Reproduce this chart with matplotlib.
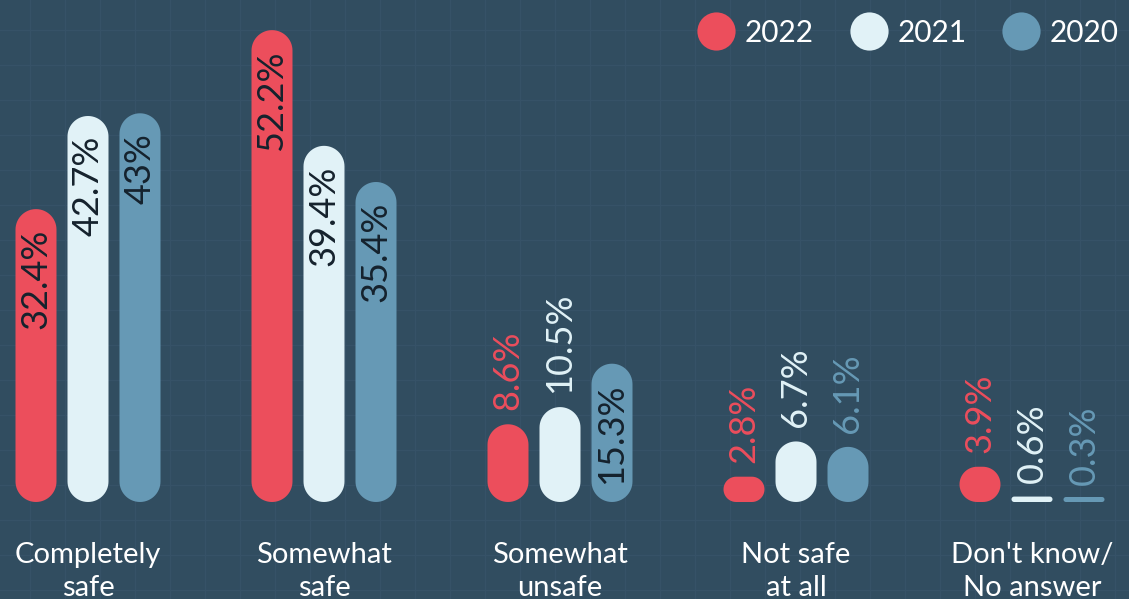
import numpy as np
import matplotlib.pyplot as plt
from matplotlib.patches import Polygon
from matplotlib.lines import Line2D

plt.rcParams['font.family'] = ['Lato', 'DejaVu Sans']

categories = ["Completely\nsafe", "Somewhat\nsafe", "Somewhat\nunsafe",
              "Not safe\nat all", "Don't know/\nNo answer"]
years = ["2022", "2021", "2020"]
v2022 = [32.4, 52.2, 8.6, 2.8, 3.9]
v2021 = [42.7, 39.4, 10.5, 6.7, 0.6]
v2020 = [43.0, 35.4, 15.3, 6.1, 0.3]

BG = "#314d60"
GRID = "#365267"
DARK = "#15222d"
colors = ["#ec4e5c", "#e1f2f7", "#6699b5"]

W, H, DPI = 1129, 599, 100
fig = plt.figure(figsize=(W / DPI, H / DPI), dpi=DPI, facecolor=BG)

# faint background grid
bg = fig.add_axes([0, 0, 1, 1], zorder=0)
bg.set_facecolor(BG)
bg.set_xlim(0, W)
bg.set_ylim(H, 0)
bg.set_xticks(range(30, W, 35))
bg.set_yticks(range(30, H, 35))
bg.grid(True, color=GRID, linewidth=1)
bg.tick_params(length=0, labelbottom=False, labelleft=False)
for s in bg.spines.values():
    s.set_visible(False)

ax = fig.add_axes([0, 0, 1, 1], zorder=1)
ax.patch.set_alpha(0)
ax.axis("off")

# layout: pixels per category and per percent
px_cat, px_pct = 236, 9.04
x0_px, base_px = 88, 97
ax.set_xlim(-x0_px / px_cat, (W - x0_px) / px_cat)
ax.set_ylim(-base_px / px_pct, (H - base_px) / px_pct)

bar_w_px = 41
bar_w = bar_w_px / px_cat
step = 52 / px_cat
pad_in = 20 / px_pct
pad_out = 14 / px_pct
min_h_px = 5  # tiny values still drawn as a visible sliver


def pill(xc, h):
    """Stadium-shaped bar in data units, corners are true circular arcs."""
    h = max(h, min_h_px / px_pct)
    r_px = min(bar_w_px, h * px_pct) / 2
    rx, ry = r_px / px_cat, r_px / px_pct
    xl, xr = xc - bar_w / 2 + rx, xc + bar_w / 2 - rx
    yb, yt = ry, h - ry
    pts = []
    for cx, cy, a0 in [(xr, yb, -90), (xr, yt, 0), (xl, yt, 90), (xl, yb, 180)]:
        a = np.radians(np.linspace(a0, a0 + 90, 16))
        pts.append(np.column_stack([cx + rx * np.cos(a), cy + ry * np.sin(a)]))
    return np.vstack(pts)


for j, (vals, col) in enumerate(zip([v2022, v2021, v2020], colors)):
    for i, v in enumerate(vals):
        x = i + (j - 1) * step
        ax.add_patch(Polygon(pill(x, v), closed=True, facecolor=col,
                             edgecolor="none"))
        lab = f"{v:g}%"
        if v >= 13:
            ax.text(x, v - pad_in, lab, rotation=90, ha="center", va="top",
                    color=DARK, fontsize=26)
        else:
            ax.text(x, v + pad_out, lab, rotation=90, ha="center",
                    va="bottom", color=col, fontsize=26)

for i, c in enumerate(categories):
    ax.text(i, -40 / px_pct, c, ha="center", va="top", color="white",
            fontsize=21, linespacing=1.35)

handles = [Line2D([], [], marker="o", linestyle="none", markersize=27.5,
                  markerfacecolor=c, markeredgecolor="none") for c in colors]
leg = ax.legend(handles, years, loc="upper right",
                bbox_to_anchor=(1.0 + 2 / W, 1.0 - 7 / H),
                ncol=3, frameon=False, fontsize=21.5, handlelength=1.27,
                handletextpad=0.33, columnspacing=1.2, borderaxespad=0)
for t in leg.get_texts():
    t.set_color("white")

fig.savefig("out.png", dpi=DPI, facecolor=BG)
